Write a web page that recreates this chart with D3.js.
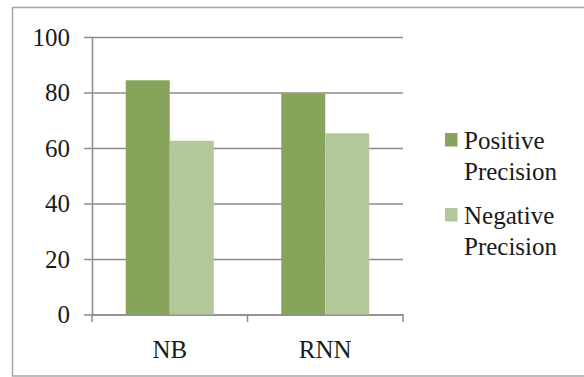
<!DOCTYPE html>
<html>
<head>
<meta charset="utf-8">
<script src="https://cdn.jsdelivr.net/npm/d3@7"></script>
</head>
<body style="margin:0">
<svg id="chart" width="584" height="377"></svg>
<script>
// Data
var categories = ["NB", "RNN"];
var seriesNames = ["Positive Precision", "Negative Precision"];
var positiveValues = [84.4, 79.7];
var negativeValues = [62.6, 65.3];
var yTicks = [0, 20, 40, 60, 80, 100];
var colors = ["#87a55a", "#b2c89a"];

var margin = { top: 37, left: 92, right: 181, bottom: 62.5 };
var width = 584 - margin.left - margin.right;
var height = 377 - margin.top - margin.bottom;

var svg = d3.select("#chart");

// ramme rundt hele figuren
svg.append("rect")
    .attr("x", 12.5).attr("y", 7.5)
    .attr("width", 580).attr("height", 368.5)
    .attr("fill", "none")
    .attr("stroke", "#a6a6a6")
    .attr("stroke-width", 1.5);

var g = svg.append("g").attr("transform", "translate(" + margin.left + "," + margin.top + ")");

var x = d3.scaleBand().domain(categories).range([0, width]);
var y = d3.scaleLinear().domain([0, 100]).range([height, 0]);

var barW = x.bandwidth() * 0.283;

function serif(sel) {
    sel.style("font-family", "'Liberation Serif', 'Times New Roman', serif", "important")
        .style("font-size", "25px", "important")
        .style("fill", "#1a1a1a");
}

// gridlinjer
g.append("g")
    .attr("class", "gridy")
    .call(d3.axisLeft(y).tickValues(yTicks).tickSize(-width).tickFormat(""))
    .call(function (s) { s.select(".domain").remove(); })
    .selectAll("line").attr("stroke", "#8c8c8c").attr("stroke-width", 1.5);

// y-akse
var yAxis = g.append("g")
    .attr("class", "y axis")
    .call(d3.axisLeft(y).tickValues(yTicks).tickSize(8).tickPadding(14).tickSizeOuter(0));
yAxis.select(".domain").attr("stroke", "#8c8c8c").attr("stroke-width", 1.5);
yAxis.selectAll("line").attr("stroke", "#8c8c8c").attr("stroke-width", 1.5);
yAxis.selectAll("text").call(serif);

// x-akse
var xAxis = g.append("g")
    .attr("class", "x axis")
    .attr("transform", "translate(0," + height + ")")
    .call(d3.axisBottom(x).tickSize(0).tickPadding(26));
xAxis.select(".domain").attr("stroke", "#8c8c8c").attr("stroke-width", 1.5);
xAxis.selectAll("text").call(serif);

// tick-streker mellom kategoriene
var bounds = [0].concat(categories.map(function (c) { return x(c) + x.bandwidth(); }));
xAxis.selectAll(".sep")
    .data(bounds)
    .enter().append("line")
    .attr("class", "sep")
    .attr("x1", function (d) { return d; })
    .attr("x2", function (d) { return d; })
    .attr("y1", 0).attr("y2", 7.5)
    .attr("stroke", "#8c8c8c").attr("stroke-width", 1.5);

// søyler
var allSeries = [positiveValues, negativeValues];
allSeries.forEach(function (vals, si) {
    g.selectAll(".bar.s" + si)
        .data(vals)
        .enter().append("rect")
        .attr("class", "bar s" + si)
        .attr("x", function (d, i) { return x(categories[i]) + x.bandwidth() / 2 - barW + si * barW; })
        .attr("width", barW)
        .attr("y", function (d) { return y(d); })
        .attr("height", function (d) { return y(0) - y(d); })
        .attr("fill", colors[si]);
});

// legende
var legend = svg.append("g").attr("class", "legend");
var legendY = [133, 208];
seriesNames.forEach(function (name, i) {
    var lg = legend.append("g").attr("transform", "translate(445," + legendY[i] + ")");
    lg.append("rect")
        .attr("width", 12.5).attr("height", 13.5)
        .attr("fill", colors[i]);
    name.split(" ").forEach(function (word, j) {
        lg.append("text")
            .attr("x", 19)
            .attr("y", 15.5 + j * 31)
            .call(serif)
            .text(word);
    });
});
</script>
</body>
</html>
